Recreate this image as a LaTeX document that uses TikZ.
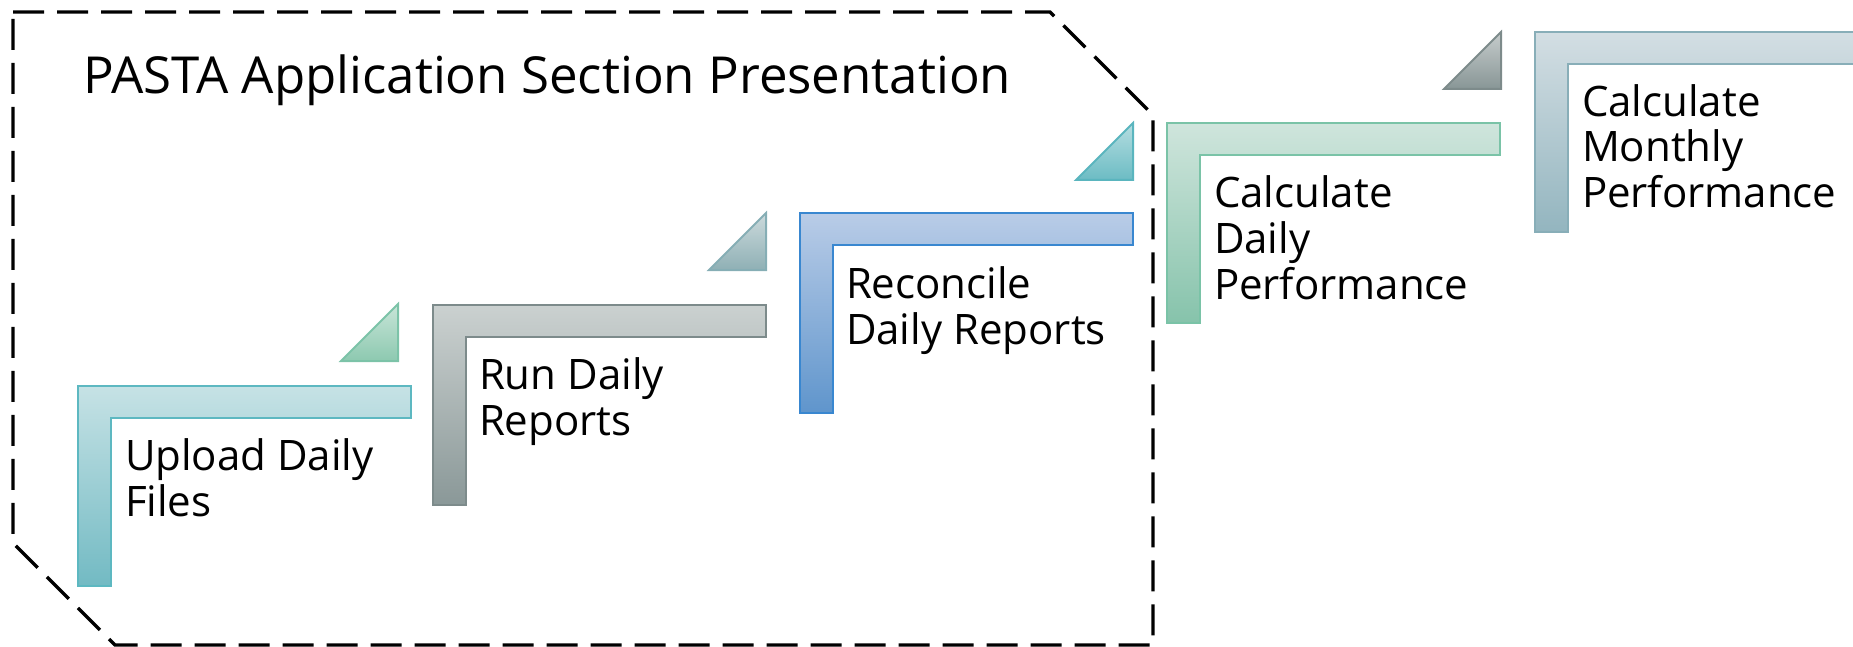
\documentclass[tikz,border=0pt]{standalone}
\usepackage{fontspec}
\setmainfont{Open Sans}
\definecolor{uplT}{HTML}{C6E2E5}\definecolor{uplB}{HTML}{72BAC3}\definecolor{uplD}{HTML}{5DB8C1}
\definecolor{triaT}{HTML}{C8E5D8}\definecolor{triaB}{HTML}{8DC9B0}\definecolor{triaD}{HTML}{7CC3A8}
\definecolor{runT}{HTML}{CBD1D0}\definecolor{runB}{HTML}{8A9898}\definecolor{runD}{HTML}{7D8B8B}
\definecolor{tribT}{HTML}{CCDADC}\definecolor{tribB}{HTML}{8FB0B5}\definecolor{tribD}{HTML}{86AEB5}
\definecolor{recT}{HTML}{B9CCE7}\definecolor{recB}{HTML}{5F95CC}\definecolor{recD}{HTML}{3987D0}
\definecolor{tricT}{HTML}{B5DDE0}\definecolor{tricB}{HTML}{6CBCC4}\definecolor{tricD}{HTML}{5AB5BE}
\definecolor{dayT}{HTML}{CFE5DC}\definecolor{dayB}{HTML}{86C3AB}\definecolor{dayD}{HTML}{7AC3A7}
\definecolor{tridT}{HTML}{C6CCCC}\definecolor{tridB}{HTML}{889696}\definecolor{tridD}{HTML}{7D8B8B}
\definecolor{monT}{HTML}{D3DEE3}\definecolor{monB}{HTML}{93B5BF}\definecolor{monD}{HTML}{88AEB8}
\newcommand{\Lpath}[2]{(#1,#2) -- ++(333,0) -- ++(0,32) -- ++(-300,0) -- ++(0,168) -- ++(-33,0) -- cycle}
\newcommand{\Tri}[2]{(#1,#2) -- ++(0,57) -- ++(-57,0) -- cycle}
\begin{document}
\begin{tikzpicture}[x=1pt,y=-1pt,
  shp/.style={line width=2pt, line join=miter},
  grad/.style n args={3}{shp, top color=#1, bottom color=#2, draw=#3},
  lbl/.style={anchor=base west, inner sep=0pt, outer sep=0pt, align=left,
    font=\fontsize{42}{46}\selectfont, text=black},
  ttl/.style={anchor=base west, inner sep=0pt, font=\fontsize{51}{51}\selectfont},
  border/.style={line width=3.3pt, dash pattern=on 31pt off 13pt, line join=miter}]
\useasboundingbox (0,0) rectangle (1853,647);
\clip (0,0) rectangle (1853,647);
% dashed section frame
\draw[border] (13,12) -- (1050,12) -- (1153,115) -- (1153,645) -- (115,645) -- (13,543) -- cycle;
% title
\node[ttl] (title) at (83,94) {PASTA Application Section Presentation};
% L shapes
\path[grad={uplT}{uplB}{uplD}] \Lpath{78}{386};
\path[grad={runT}{runB}{runD}] \Lpath{433}{305};
\path[grad={recT}{recB}{recD}] \Lpath{800}{213};
\path[grad={dayT}{dayB}{dayD}] \Lpath{1167}{123};
\path[grad={monT}{monB}{monD}] \Lpath{1535}{32};
% triangles
\path[grad={triaT}{triaB}{triaD}] \Tri{398}{304};
\path[grad={tribT}{tribB}{tribD}] \Tri{766}{213};
\path[grad={tricT}{tricB}{tricD}] \Tri{1133}{123};
\path[grad={tridT}{tridB}{tridD}] \Tri{1501}{32};
% labels (anchor = baseline of last line)
\node[lbl] (upload) at (125,516) {Upload Daily\\Files};
\node[lbl] (run) at (479,435) {Run Daily\\Reports};
\node[lbl] (rec) at (846,344) {Reconcile\\Daily Reports};
\node[lbl] (daily) at (1214,299) {Calculate\\Daily\\Performance};
\node[lbl] (month) at (1582,208) {Calculate\\Monthly\\Performance};
\end{tikzpicture}
\end{document}
